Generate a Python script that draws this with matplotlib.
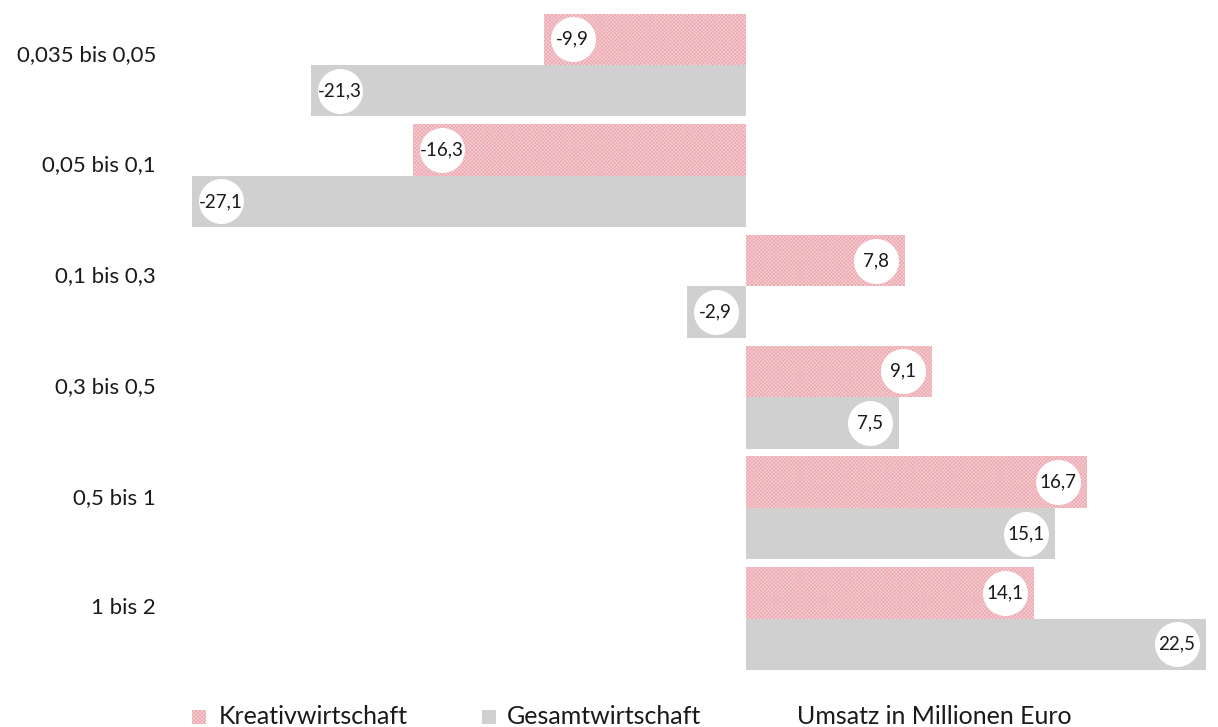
import numpy as np
import matplotlib.pyplot as plt
from matplotlib.patches import Rectangle

plt.rcParams['font.family'] = ['Lato', 'DejaVu Sans']
plt.rcParams['hatch.linewidth'] = 0.5

# size classes (Umsatz in Mio. Euro)
categories = ["0,035 bis 0,05", "0,05 bis 0,1", "0,1 bis 0,3", "0,3 bis 0,5", "0,5 bis 1", "1 bis 2"]
kreativ = [-9.9, -16.3, 7.8, 9.1, 16.7, 14.1]
gesamt = [-21.3, -27.1, -2.9, 7.5, 15.1, 22.5]

pink_face = "#f6d0d4"
pink_hatch = "#eba5ad"
grey = "#d0d0d0"

W, H = 1218, 727
fig = plt.figure(figsize=(W / 100, H / 100), dpi=100)
ax = fig.add_axes([170 / W, 1 - 680 / H, (W - 170) / W, 680 / H])

y = np.arange(len(categories))
h = 0.465

ax.barh(y - h / 2, kreativ, height=h, color=pink_face, edgecolor=pink_hatch,
        hatch="xxxxxxxxx", linewidth=0)
ax.barh(y + h / 2, gesamt, height=h, color=grey, linewidth=0)

off = 1.42
def label(vals, ys):
    for v, yy in zip(vals, ys):
        xc = v - off if v > 0 else v + off
        ax.scatter([xc], [yy], s=1050, color="white", zorder=3, linewidths=0)
        ax.text(xc, yy, f"{v:.1f}".replace(".", ","), ha="center", va="center",
                fontsize=13.5, color="#1a1a1a", zorder=4)

label(kreativ, y - h / 2)
label(gesamt, y + h / 2)

ax.set_xlim(-(746 - 170) / 20.44, (W - 746) / 20.44)
ax.set_ylim(5 + (680 - 618.5) / 110.7, -65 / 110.7)
ax.set_yticks(y - 0.11)
ax.set_yticklabels(categories, fontsize=16, color="#1a1a1a")
ax.tick_params(axis="y", length=0, pad=10)
ax.set_xticks([])
for s in ax.spines.values():
    s.set_visible(False)

# legend row
fig.patches.append(Rectangle((192 / W, 1 - 724 / H), 14 / W, 14 / H, transform=fig.transFigure,
                             facecolor=pink_face, edgecolor=pink_hatch, hatch="xxxxxxxxx", linewidth=0))
fig.patches.append(Rectangle((482 / W, 1 - 724 / H), 14 / W, 14 / H, transform=fig.transFigure,
                             facecolor=grey, linewidth=0))
fig.text(219 / W, 1 - 724 / H, "Kreativwirtschaft", fontsize=18, va="baseline", color="#1a1a1a")
fig.text(507 / W, 1 - 724 / H, "Gesamtwirtschaft", fontsize=18, va="baseline", color="#1a1a1a")
fig.text(797 / W, 1 - 724 / H, "Umsatz in Millionen Euro", fontsize=18, va="baseline", color="#1a1a1a")

fig.savefig("out.png", dpi=100, facecolor="white")
